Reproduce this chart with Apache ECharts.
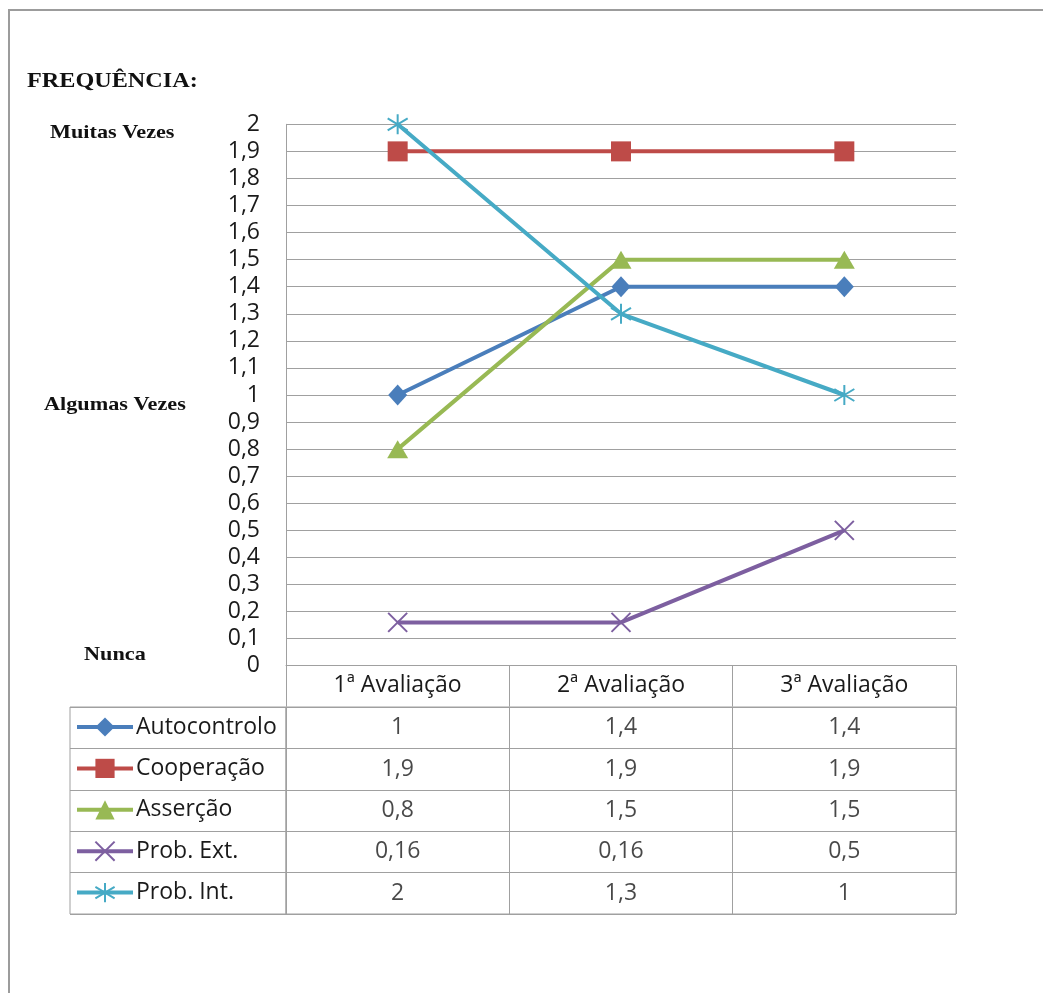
<!DOCTYPE html>
<html>
<head>
<meta charset="utf-8">
<script src="https://cdn.jsdelivr.net/npm/echarts@6/dist/echarts.min.js"></script>
<style>
html,body{margin:0;padding:0;background:#fff;}
#chart{width:1043px;height:993px;}
</style>
</head>
<body>
<div id="chart"></div>
<script>
const categories = ['1ª Avaliação', '2ª Avaliação', '3ª Avaliação'];
const seriesNames = ['Autocontrolo', 'Cooperação', 'Asserção', 'Prob. Ext.', 'Prob. Int.'];
const autocontrolo = [1, 1.4, 1.4];
const cooperacao = [1.9, 1.9, 1.9];
const assercao = [0.8, 1.5, 1.5];
const probExt = [0.16, 0.16, 0.5];
const probInt = [2, 1.3, 1];
const yTicks = { min: 0, max: 2, interval: 0.1 };
const levelLabels = ['Muitas Vezes', 'Algumas Vezes', 'Nunca'];

const values = [autocontrolo, cooperacao, assercao, probExt, probInt];
const colors = ['#4a7ebb', '#be4b48', '#98b954', '#7d5fa0', '#46aac5'];
const symbols = [
  'diamond',
  'rect',
  'triangle',
  'path://M0,0L20,20M20,0L0,20',
  'path://M10,0L10,20M0,4L20,16M0,16L20,4'
];
const symbolSizes = [[19, 21], 20, [21, 18], 19, 20];
const strokeSym = [false, false, false, true, true];

const fmt = v => String(+(+v).toFixed(2)).replace('.', ',');
const gridColor = '#a0a0a0';
const FONT = '"Open Sans", Lato, sans-serif';
const SERIF = '"Liberation Serif", "DejaVu Serif", serif';
const FS = 23;

const lineSeries = seriesNames.map((name, i) => ({
  name: name,
  type: 'line',
  xAxisIndex: 0,
  yAxisIndex: 0,
  data: values[i],
  symbol: symbols[i],
  symbolSize: symbolSizes[i],
  showAllSymbol: true,
  lineStyle: { color: colors[i], width: 4 },
  itemStyle: strokeSym[i]
    ? { color: colors[i], borderColor: colors[i], borderWidth: 2 }
    : { color: colors[i], borderWidth: 0 },
  emphasis: { disabled: true },
  z: 3 + i
}));

const tableData = [];
values.forEach((arr, r) => {
  arr.forEach((v, c) => tableData.push([c, r, v]));
});

const chart = echarts.init(document.getElementById('chart'), null, { renderer: 'canvas' });
chart.setOption({
  animation: false,
  backgroundColor: '#ffffff',
  textStyle: { fontFamily: FONT },
  grid: [
    { left: 286, right: 87, top: 124.3, height: 541.4, containLabel: false },
    { left: 286, right: 87, top: 707, height: 207, show: true, borderColor: gridColor, borderWidth: 1 },
    { left: 70, width: 216, top: 707, height: 207, show: true, borderColor: gridColor, borderWidth: 1 }
  ],
  xAxis: [
    {
      gridIndex: 0, type: 'category', data: categories, boundaryGap: true,
      axisLine: { show: true, lineStyle: { color: gridColor, width: 1 } },
      axisTick: { show: true, length: 41, alignWithLabel: false, lineStyle: { color: gridColor, width: 1 } },
      axisLabel: { fontSize: FS, color: '#1a1a1a', margin: 8, fontFamily: FONT },
      splitLine: { show: false }
    },
    {
      gridIndex: 1, type: 'category', data: categories, boundaryGap: true,
      axisLine: { show: false }, axisTick: { show: false }, axisLabel: { show: false },
      splitLine: { show: true, lineStyle: { color: gridColor, width: 1 } }
    },
    {
      gridIndex: 2, type: 'value', min: 0, max: 1, show: false
    }
  ],
  yAxis: [
    {
      gridIndex: 0, type: 'value', min: yTicks.min, max: yTicks.max, interval: yTicks.interval,
      axisLine: { show: true, lineStyle: { color: gridColor, width: 1 } },
      axisTick: { show: false },
      axisLabel: { fontSize: FS, color: '#1a1a1a', margin: 26, formatter: v => fmt(v), fontFamily: FONT },
      splitLine: { show: true, lineStyle: { color: gridColor, width: 1 } }
    },
    {
      gridIndex: 1, type: 'category', data: seriesNames, inverse: true,
      axisLine: { show: false }, axisTick: { show: false }, axisLabel: { show: false },
      splitLine: { show: true, lineStyle: { color: gridColor, width: 1 } }
    },
    {
      gridIndex: 2, type: 'category', data: seriesNames, inverse: true,
      axisLine: { show: false }, axisTick: { show: false }, axisLabel: { show: false },
      splitLine: { show: true, lineStyle: { color: gridColor, width: 1 } }
    }
  ],
  legend: {
    data: seriesNames,
    orient: 'vertical',
    left: 75,
    top: 715,
    padding: 0,
    itemWidth: 56,
    itemHeight: 24,
    itemGap: 17.4,
    selectedMode: false,
    lineStyle: { width: 4 },
    textStyle: { fontSize: FS, color: '#1a1a1a', fontFamily: FONT, lineHeight: 24, padding: [0, 0, 0, -2] }
  },
  series: lineSeries.concat([
    {
      name: 'tabela',
      type: 'scatter',
      xAxisIndex: 1,
      yAxisIndex: 1,
      data: tableData,
      symbolSize: 1,
      itemStyle: { color: 'rgba(0,0,0,0)' },
      silent: true,
      label: {
        show: true, position: 'inside',
        formatter: p => fmt(p.value[2]),
        fontSize: FS, color: '#1a1a1a', fontFamily: FONT
      }
    }
  ]),
  graphic: [
    { type: 'polyline', shape: { points: [[9, 993], [9, 10], [1043, 10]] }, style: { stroke: '#9c9c9c', lineWidth: 2, fill: null }, silent: true },
    { type: 'text', x: 27, y: 81, scaleX: 1.1, style: { text: 'FREQUÊNCIA:', font: 'bold 22px ' + SERIF, fill: '#111', verticalAlign: 'middle' } },
    { type: 'text', x: 50, y: 133, scaleX: 1.17, style: { text: levelLabels[0], font: 'bold 19px ' + SERIF, fill: '#111', verticalAlign: 'middle' } },
    { type: 'text', x: 44, y: 405, scaleX: 1.17, style: { text: levelLabels[1], font: 'bold 19px ' + SERIF, fill: '#111', verticalAlign: 'middle' } },
    { type: 'text', x: 84, y: 655, scaleX: 1.17, style: { text: levelLabels[2], font: 'bold 19px ' + SERIF, fill: '#111', verticalAlign: 'middle' } }
  ]
});
</script>
</body>
</html>
